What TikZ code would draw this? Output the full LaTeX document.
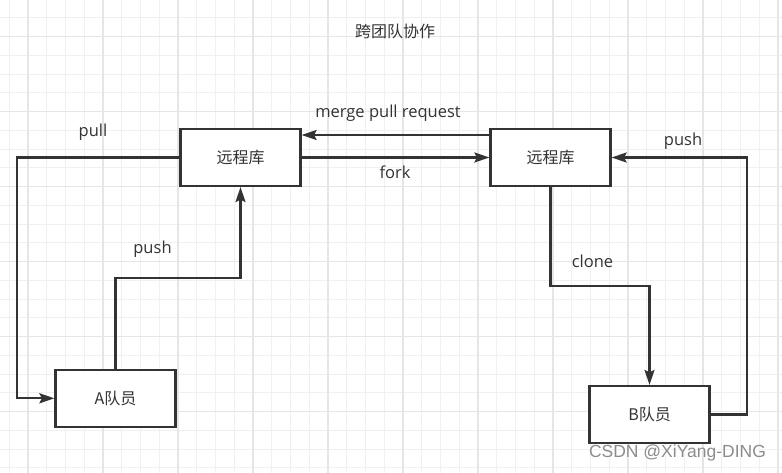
\documentclass[tikz,border=0pt]{standalone}
\usepackage{fontspec}
\setmainfont{Open Sans}
\newfontfamily\cjk{Noto Sans CJK SC}
\newfontfamily\wmfont{Liberation Sans}
\usetikzlibrary{arrows.meta,calc}
\definecolor{ink}{HTML}{333333}
\definecolor{gminor}{HTML}{F0F0F0}
\definecolor{gmajor}{HTML}{E6E6E6}
\definecolor{wmgray}{HTML}{8C8C8C}
\tikzset{
  box/.style={draw=ink, line width=2.2bp, fill=white, minimum width=120bp, minimum height=57bp, inner sep=0pt, text=ink, font=\fontsize{16bp}{18bp}\selectfont\cjk},
  conn/.style={draw=ink, line width=2.2bp, -{Stealth[length=15bp,width=10bp,inset=2.5bp]}},
  lbl/.style={text=ink, inner sep=0pt, font=\fontsize{16.5bp}{18bp}\selectfont},
  minorline/.style={draw=gminor, line width=1bp},
  majorline/.style={draw=gmajor, line width=1.2bp}
}
\begin{document}
\begin{tikzpicture}[x=1bp,y=-1bp]
\useasboundingbox (0,0) rectangle (782,473);
\fill[white] (0,0) rectangle (782,473);
% grid
\foreach \i in {0,...,41} {\draw[minorline] ({9.25+18.75*\i},0) -- ({9.25+18.75*\i},473);}
\foreach \i in {0,...,25} {\draw[minorline] (0,{-0.8+18.75*\i}) -- (782,{-0.8+18.75*\i});}
\foreach \i in {0,...,10} {\draw[majorline] ({28+75*\i},0) -- ({28+75*\i},473);}
\foreach \i in {0,...,5} {\draw[majorline] (0,{36.7+75*\i}) -- (782,{36.7+75*\i});}

% title
\node[lbl, font=\fontsize{16bp}{18bp}\selectfont\cjk] (title) at (395,31.5) {跨团队协作};

% boxes
\node[box] (R1) at (240.5,157.5) {远程库};
\node[box] (R2) at (550.5,157.5) {远程库};
\node[box] (A) at (115.5,398.3) {A队员};
\node[box] (B) at (649.5,414.5) {B队员};

% helper coordinates
\coordinate (p1) at (17,157.5);
\coordinate (pa) at (115.5,278.3);
\coordinate (c1) at (550.5,286);
\coordinate (pb) at (746.7,157.5);

% connectors
\draw[conn] (R1.west) -- (p1) |- (A.west);
\draw[conn] (A.north) -- (pa) -| (R1.south);
\draw[conn] ([yshift=22.5bp]R2.west) -- ([yshift=22.5bp]R1.east);
\draw[conn] (R1.east) -- (R2.west);
\draw[conn] (R2.south) -- (c1) -| (B.north);
\draw[conn] (B.east) -| (pb) -- (R2.east);

% labels
\node[lbl] (lpull) at (93,132.5) {pull};
\node[lbl] (lmerge) at (388,113.5) {merge pull request};
\node[lbl] (lfork) at (395,172) {fork};
\node[lbl] (lpushA) at (152.5,249) {push};
\node[lbl] (lpushB) at (683,141.5) {push};
\node[lbl] (lclone) at (592.5,261) {clone};

% watermark
\node[text=white, inner sep=0pt, font=\fontsize{17.5bp}{20bp}\selectfont\wmfont] at (678.5,454) {CSDN @XiYang-DING};
\node[text=wmgray, inner sep=0pt, font=\fontsize{17.5bp}{20bp}\selectfont\wmfont] (wm) at (677.5,453) {CSDN @XiYang-DING};
\end{tikzpicture}
\end{document}
